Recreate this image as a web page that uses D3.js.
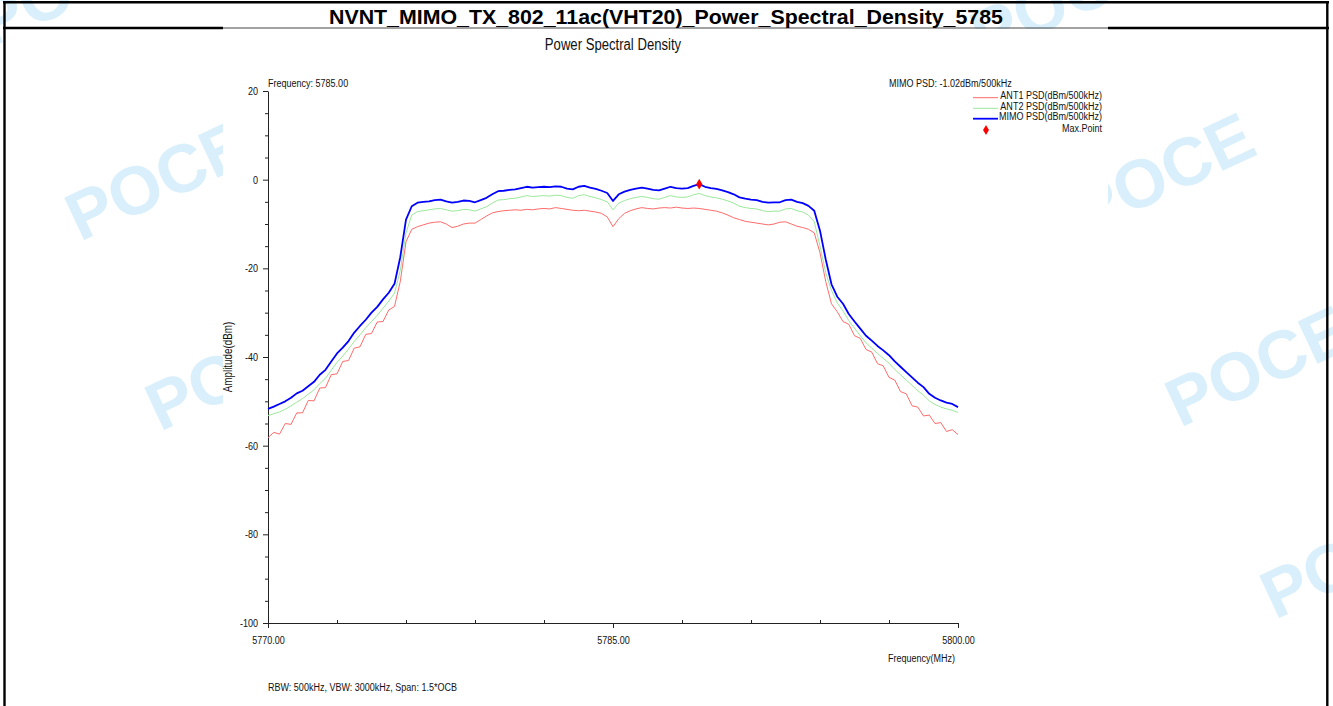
<!DOCTYPE html>
<html>
<head>
<meta charset="utf-8">
<script src="https://cdn.jsdelivr.net/npm/d3@7"></script>
<style>
  body { margin: 0; background: #fff; }
  svg text { font-family: "Liberation Sans", Arial, sans-serif; fill: #111; }
</style>
</head>
<body>
<div id="chart"></div>
<script>
// ============================================================
//  Power Spectral Density, NVNT MIMO TX 802.11ac (VHT20) 5785
// ============================================================

// --- Data (sweep grid every 0.25 MHz) ---
const freqStart = 5770;
const freqStep = 0.25;

const mimoPsd = [
  -51.7, -51.2, -50.6, -50.0, -49.2, -48.2, -47.6, -46.6, -45.6, -44.0,
  -42.9, -41.0, -39.2, -37.9, -36.4, -34.5, -33.0, -31.6, -30.0, -28.7,
  -27.0, -25.5, -23.5, -17.5, -9.0, -6.0, -5.2, -5.0, -4.9, -4.6,
  -4.5, -4.9, -5.2, -5.0, -4.7, -4.8, -5.1, -4.6, -4.1, -3.3,
  -2.6, -2.5, -2.3, -2.2, -1.9, -1.6, -1.8, -1.7, -1.6, -1.7,
  -1.5, -1.6, -2.0, -2.2, -1.6, -1.4, -1.8, -2.1, -2.5, -3.0,
  -4.8, -3.3, -2.7, -2.3, -2.0, -1.8, -2.0, -2.3, -2.4, -2.0,
  -1.6, -1.9, -2.0, -1.9, -1.4, -1.02, -1.6, -1.9, -2.1, -2.4,
  -2.8, -3.3, -4.0, -4.3, -4.5, -4.6, -5.0, -5.2, -5.1, -5.1,
  -4.6, -4.5, -5.0, -5.3, -5.9, -7.0, -11.5, -18.0, -23.6, -26.4,
  -28.0, -30.3, -32.0, -33.6, -35.2, -36.3, -37.5, -38.5, -39.6, -41.0,
  -42.2, -43.4, -44.6, -45.8, -46.8, -48.3, -49.2, -49.8, -50.3, -50.6,
  -51.3
];

const ant2Psd = [
  -53.2, -52.8, -52.4, -51.8, -51.0, -50.2, -49.4, -48.4, -47.4, -46.0,
  -44.8, -43.0, -41.2, -39.8, -38.2, -36.5, -35.0, -33.4, -32.0, -30.6,
  -29.0, -27.4, -25.6, -20.5, -12.0, -8.0, -7.2, -7.0, -6.8, -6.6,
  -6.5, -6.8, -7.1, -7.0, -6.7, -6.8, -7.1, -6.6, -6.1, -5.3,
  -4.6, -4.5, -4.3, -4.2, -3.9, -3.6, -3.8, -3.7, -3.6, -3.7,
  -3.5, -3.6, -4.0, -4.2, -3.6, -3.4, -3.8, -4.1, -4.5, -5.0,
  -6.8, -5.3, -4.7, -4.3, -4.0, -3.8, -4.0, -4.3, -4.4, -4.0,
  -3.6, -3.9, -4.0, -3.9, -3.4, -3.1, -3.6, -3.9, -4.1, -4.4,
  -4.8, -5.3, -6.0, -6.3, -6.5, -6.6, -7.0, -7.2, -7.1, -7.1,
  -6.6, -6.5, -7.0, -7.3, -8.0, -9.5, -15.0, -21.0, -25.0, -27.8,
  -29.6, -31.8, -33.5, -35.2, -36.8, -38.0, -39.2, -40.3, -41.4, -42.8,
  -44.0, -45.2, -46.4, -47.6, -48.6, -49.9, -50.7, -51.3, -51.7, -52.0,
  -52.5
];

const ant1Psd = [
  -58.2, -57.0, -57.4, -55.0, -55.2, -52.6, -52.6, -49.8, -49.9, -47.0,
  -46.9, -44.0, -43.8, -41.0, -40.8, -38.0, -37.7, -34.9, -34.7, -32.1,
  -32.0, -29.4, -28.6, -23.0, -14.0, -11.2, -10.6, -10.2, -9.8, -9.6,
  -9.5, -10.0, -10.8, -10.5, -10.0, -9.8, -9.8, -9.0, -8.2, -7.5,
  -7.2, -7.0, -6.9, -6.8, -6.9, -6.7, -6.8, -6.6, -6.5, -6.6,
  -6.3, -6.5, -6.7, -6.9, -7.0, -6.9, -7.1, -7.3, -7.6, -8.4,
  -10.6, -8.8, -7.6, -7.0, -6.6, -6.3, -6.5, -6.6, -6.4, -6.3,
  -6.4, -6.2, -6.4, -6.5, -6.4, -6.5, -6.7, -6.9, -7.1, -7.5,
  -8.0, -8.6, -9.0, -9.4, -9.6, -9.8, -10.0, -10.2, -10.0, -9.6,
  -9.5, -10.0, -10.5, -10.8, -11.2, -12.0, -16.5, -23.0, -28.0, -29.8,
  -32.0, -32.6, -35.2, -35.8, -38.3, -38.9, -41.5, -42.0, -44.6, -45.2,
  -47.8, -48.3, -51.0, -51.3, -53.3, -53.1, -55.0, -54.8, -56.8, -56.4,
  -57.5
];

const freqs = mimoPsd.map((_, i) => freqStart + i * freqStep);

const yMajorTicks = [-100, -80, -60, -40, -20, 0, 20];
const yMinorTicks = [-95, -90, -85, -75, -70, -65, -55, -50, -45, -35, -30, -25, -15, -10, -5, 5, 10, 15];
const xMajorTicks = [5770, 5785, 5800];
const xMinorTicks = [5773, 5776, 5779, 5782, 5788, 5791, 5794, 5797];

const seriesNames = ['ANT1 PSD(dBm/500kHz)', 'ANT2 PSD(dBm/500kHz)', 'MIMO PSD(dBm/500kHz)'];
const seriesColors = ['#ff6b6b', '#9be89b', '#0000ff'];
const seriesWidths = [1, 1, 1.8];

const pageTitle = 'NVNT_MIMO_TX_802_11ac(VHT20)_Power_Spectral_Density_5785';
const watermarks = [[-10, 48], [80, 242], [160, 432], [985, 60], [1085, 235], [1180, 428], [1275, 620]];

// the chart image text is horizontally squeezed
const SQ = 0.82;

// --- Canvas ---
const W = 1333, H = 706;
const svg = d3.select('#chart').append('svg')
  .attr('width', W)
  .attr('height', H);

function label(x, y, str, size, anchor, rot) {
  const t = rot ? `translate(${x},${y}) rotate(${rot}) scale(${SQ},1)` : `translate(${x},${y}) scale(${SQ},1)`;
  return svg.append('text')
    .attr('transform', t)
    .attr('text-anchor', anchor || 'start')
    .style('font-size', size + 'px')
    .text(str);
}

// Watermarks behind everything
watermarks.forEach(([wx, wy]) => {
  svg.append('text')
    .attr('transform', `translate(${wx},${wy}) rotate(-25)`)
    .style('font-weight', 'bold')
    .style('font-size', '68px')
    .style('fill', '#d9effb')
    .text('POCE');
});

// White chart image area
svg.append('rect')
  .attr('x', 223).attr('y', 29)
  .attr('width', 885).attr('height', H - 29)
  .attr('fill', '#fff');

// --- Page frame ---
const frame = svg.append('g').attr('stroke', '#000').attr('stroke-width', 2.4);
frame.append('line').attr('x1', 3).attr('x2', 1329).attr('y1', 2.3).attr('y2', 2.3);
frame.append('line').attr('x1', 4.5).attr('x2', 4.5).attr('y1', 1).attr('y2', H);
frame.append('line').attr('x1', 1327.3).attr('x2', 1327.3).attr('y1', 1).attr('y2', H);
frame.append('line').attr('x1', 3).attr('x2', 223).attr('y1', 28).attr('y2', 28);
frame.append('line').attr('x1', 1108).attr('x2', 1329).attr('y1', 28).attr('y2', 28);
svg.append('line')
  .attr('x1', 223).attr('x2', 1108).attr('y1', 28).attr('y2', 28)
  .attr('stroke', '#444').attr('stroke-width', 1);

svg.append('text')
  .attr('x', 666).attr('y', 23.5)
  .attr('text-anchor', 'middle')
  .style('font-weight', 'bold')
  .style('font-size', '20px')
  .style('fill', '#000')
  .attr('textLength', 674)
  .attr('lengthAdjust', 'spacingAndGlyphs')
  .text(pageTitle);

// --- Scales ---
const x = d3.scaleLinear().domain([5770, 5800]).range([268, 958]);
const y = d3.scaleLinear().domain([-100, 20]).range([623, 91]);

// --- Chart title ---
label(613, 50, 'Power Spectral Density', 16, 'middle');

// --- Axes ---
function styleAxis(g) {
  g.selectAll('path.domain').attr('stroke', '#222');
  g.selectAll('.tick line').attr('stroke', '#222');
  g.selectAll('.tick text')
    .style('font-size', '11px')
    .attr('transform', `scale(${SQ},1)`);
}

svg.append('g')
  .attr('transform', 'translate(268,0)')
  .call(d3.axisLeft(y).tickValues(yMajorTicks).tickFormat(d => String(d))
    .tickSize(5).tickSizeOuter(0).tickPadding(7.2))
  .call(styleAxis);

svg.append('g')
  .attr('transform', 'translate(268,0)')
  .call(d3.axisLeft(y).tickValues(yMinorTicks).tickSize(3).tickFormat(''))
  .call(g => g.select('path.domain').remove())
  .call(styleAxis);

svg.append('g')
  .attr('transform', 'translate(0,623)')
  .call(d3.axisBottom(x).tickValues(xMajorTicks).tickFormat(d3.format('.2f'))
    .tickSize(5).tickSizeOuter(0).tickPadding(8))
  .call(styleAxis);

svg.append('g')
  .attr('transform', 'translate(0,623)')
  .call(d3.axisBottom(x).tickValues(xMinorTicks).tickSize(-3).tickFormat(''))
  .call(g => g.select('path.domain').remove())
  .call(styleAxis);

// --- Axis labels and notes ---
label(232, 357, 'Amplitude(dBm)', 12, 'middle', -90);
label(955, 662, 'Frequency(MHz)', 11, 'end');
label(268, 691, 'RBW: 500kHz, VBW: 3000kHz, Span: 1.5*OCB', 11);
label(268, 87, 'Frequency: 5785.00', 11);

const maxIdx = d3.maxIndex(mimoPsd);
label(889, 87, `MIMO PSD: ${mimoPsd[maxIdx].toFixed(2)}dBm/500kHz`, 11);

// --- Curves ---
const seriesData = [ant1Psd, ant2Psd, mimoPsd];
const line = d3.line()
  .x((d, i) => x(freqs[i]))
  .y(d => y(d));

seriesData.forEach((vals, k) => {
  svg.append('path')
    .datum(vals)
    .attr('fill', 'none')
    .attr('stroke', seriesColors[k])
    .attr('stroke-width', seriesWidths[k])
    .attr('stroke-linejoin', 'round')
    .attr('d', line);
});

// Max point
svg.append('path')
  .attr('d', d3.symbol(d3.symbolDiamond, 34)())
  .attr('transform', `translate(${x(freqs[maxIdx])},${y(mimoPsd[maxIdx])})`)
  .attr('fill', '#ff0000');

// --- Legend ---
const legendRows = [97.7, 108.3, 118.7];
seriesNames.forEach((name, k) => {
  svg.append('line')
    .attr('x1', 973).attr('x2', 998)
    .attr('y1', legendRows[k]).attr('y2', legendRows[k])
    .attr('stroke', seriesColors[k])
    .attr('stroke-width', seriesWidths[k]);
  label(1102, legendRows[k] + 1.2, name, 11, 'end');
});
svg.append('path')
  .attr('d', d3.symbol(d3.symbolDiamond, 30)())
  .attr('transform', 'translate(986,130)')
  .attr('fill', '#ff0000');
label(1102, 131.7, 'Max.Point', 11, 'end');
</script>
</body>
</html>
